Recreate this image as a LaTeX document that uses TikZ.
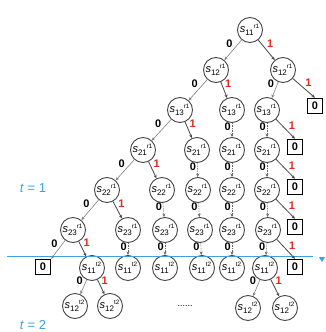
\documentclass[tikz,border=0pt]{standalone}
\usepackage{fontspec}
\setmainfont{Liberation Sans}
\usetikzlibrary{arrows.meta}
\definecolor{tblue}{RGB}{60,160,230}
\definecolor{tred}{RGB}{230,40,35}
\definecolor{cgray}{RGB}{70,70,70}
\newcommand{\sv}[2]{\hspace*{-1pt}{\fontsize{11}{11}\selectfont\textit{s}}\raisebox{-2.6pt}{\fontsize{8}{8}\selectfont #1}\raisebox{4pt}{\fontsize{6.3}{6}\selectfont #2}}
\tikzset{
  st/.style={circle,draw=cgray,line width=0.9pt,minimum size=25pt,inner sep=0pt},
  zbox/.style={rectangle,draw=black,line width=1.4pt,minimum size=15pt,inner sep=0pt,font=\fontsize{11}{11}\selectfont\bfseries},
  zero/.style={draw=gray,line width=0.6pt,-{Stealth[length=3.5pt,width=3pt]}},
  zerov/.style={draw=gray!80!black,line width=0.7pt,densely dotted,-{Stealth[length=3.5pt,width=3pt]}},
  one/.style={draw=cgray,line width=0.8pt,-{Stealth[length=3.5pt,width=3pt]}},
  lz/.style={font=\fontsize{11}{11}\selectfont\bfseries,text=black,inner sep=1pt},
  lo/.style={font=\fontsize{11}{11}\selectfont\bfseries,text=tred,inner sep=1pt},
}
\begin{document}
\begin{tikzpicture}[x=1pt,y=-1pt]
\useasboundingbox (0,0) rectangle (325,332);
% row 0-1
\node[st] (A) at (250,30) {\sv{11}{r1}};
\node[st] (B1) at (216,70) {\sv{12}{r1}};
\node[st] (B2) at (283,70) {\sv{12}{r1}};
\node[zbox] (X0) at (315,106) {0};
% row 2
\node[st] (C1) at (180,110) {\sv{13}{r1}};
\node[st] (C2) at (232,110) {\sv{13}{r1}};
\node[st] (C3) at (267,110) {\sv{13}{r1}};
% row 3
\node[st] (D1) at (143,150) {\sv{21}{r1}};
\node[st] (D2) at (197,150) {\sv{21}{r1}};
\node[st] (D3) at (232,150) {\sv{21}{r1}};
\node[st] (D4) at (267,150) {\sv{21}{r1}};
\node[zbox] (X1) at (295,147) {0};
% row 4
\node[st] (E1) at (107,190) {\sv{22}{r1}};
\node[st] (E2) at (162,190) {\sv{22}{r1}};
\node[st] (E3) at (198,190) {\sv{22}{r1}};
\node[st] (E4) at (232,190) {\sv{22}{r1}};
\node[st] (E5) at (267,190) {\sv{22}{r1}};
\node[zbox] (X2) at (295,187) {0};
% row 5
\node[st] (F1) at (73,230) {\sv{23}{r1}};
\node[st] (F2) at (128,230) {\sv{23}{r1}};
\node[st] (F3) at (165,230) {\sv{23}{r1}};
\node[st] (F4) at (200,230) {\sv{23}{r1}};
\node[st] (F5) at (232,230) {\sv{23}{r1}};
\node[st] (F6) at (268,230) {\sv{23}{r1}};
\node[zbox] (X3) at (295,227) {0};
% row 6
\node[zbox] (XL) at (43,267) {0};
\node[st] (G1) at (92,268) {\sv{11}{t2}};
\node[st] (G2) at (128,268) {\sv{11}{t2}};
\node[st] (G3) at (165,268) {\sv{11}{t2}};
\node[st] (G4) at (202,268) {\sv{11}{t2}};
\node[st] (G5) at (232,268) {\sv{11}{t2}};
\node[st] (G6) at (265,268) {\sv{11}{t2}};
\node[zbox] (X4) at (295,267) {0};
% row 7
\node[st] (H1) at (75,306) {\sv{12}{t2}};
\node[st] (H2) at (110,306) {\sv{12}{t2}};
\node[st] (H3) at (248,308) {\sv{12}{t2}};
\node[st] (H4) at (285,308) {\sv{12}{t2}};
\node[font=\fontsize{9}{9}\selectfont] (dots) at (185,306) {......};
% time labels
\node[text=tblue,font=\fontsize{13}{13}\selectfont] (t1) at (33,188) {\textit{t} = 1};
\node[text=tblue,font=\fontsize{13}{13}\selectfont] (t2) at (33,325) {\textit{t} = 2};
\coordinate (l0) at (7,256);
\coordinate (l1) at (313,256);
\draw[tblue,line width=1pt] (l0) -- (l1);
\coordinate (m0) at (319,257);
\fill[tblue] (m0) -- ++(6,0) -- ++(-3,5) -- cycle;
% diagonal 0 edges
\draw[zero] (A) -- node[lz,pos=0.45,above left] {0} (B1);
\draw[zero] (B1) -- node[lz,pos=0.45,above left] {0} (C1);
\draw[zero] (C1) -- node[lz,pos=0.45,above left] {0} (D1);
\draw[zero] (D1) -- node[lz,pos=0.45,above left] {0} (E1);
\draw[zero] (E1) -- node[lz,pos=0.45,above left] {0} (F1);
\draw[zero] (F1) -- node[lz,pos=0.45,above left] {0} (XL.north east);
\draw[zero] (B2) -- node[lz,pos=0.45,above left] {0} (C3);
\draw[zero] (G1) -- node[lz,pos=0.4,above left] {0} (H1);
\draw[zero] (G6) -- node[lz,pos=0.4,above left] {0} (H3);
% 1 edges
\draw[one] (A) -- node[lo,pos=0.45,above right] {1} (B2);
\draw[one] (B1) -- node[lo,pos=0.45,above right] {1} (C2);
\draw[one] (C1) -- node[lo,pos=0.45,above right] {1} (D2);
\draw[one] (D1) -- node[lo,pos=0.45,above right] {1} (E2);
\draw[one] (E1) -- node[lo,pos=0.45,above right] {1} (F2);
\draw[one] (F1) -- node[lo,pos=0.45,above right] {1} (G1);
\draw[one] (G1) -- node[lo,pos=0.4,above right] {1} (H2);
\draw[one] (G6) -- node[lo,pos=0.4,above right] {1} (H4);
\draw[one] (B2) -- node[lo,pos=0.5,above right] {1} (X0.north);
\draw[one] (C3) -- node[lo,pos=0.6,above right] {1} (X1.north);
\draw[one] (D4) -- node[lo,pos=0.6,above right] {1} (X2.north);
\draw[one] (E5) -- node[lo,pos=0.6,above right] {1} (X3.north);
\draw[one] (F6) -- node[lo,pos=0.6,above right] {1} (X4.north);
% vertical 0 edges
\foreach \u/\v in {C2/D3,D3/E4,E4/F5,F5/G5,C3/D4,D4/E5,E5/F6,F6/G6,D2/E3,E3/F4,F4/G4,E2/F3,F3/G3,F2/G2}{
  \draw[zerov] (\u) -- node[lz,pos=0.3,left] {0} (\v);
}
\end{tikzpicture}
\end{document}
